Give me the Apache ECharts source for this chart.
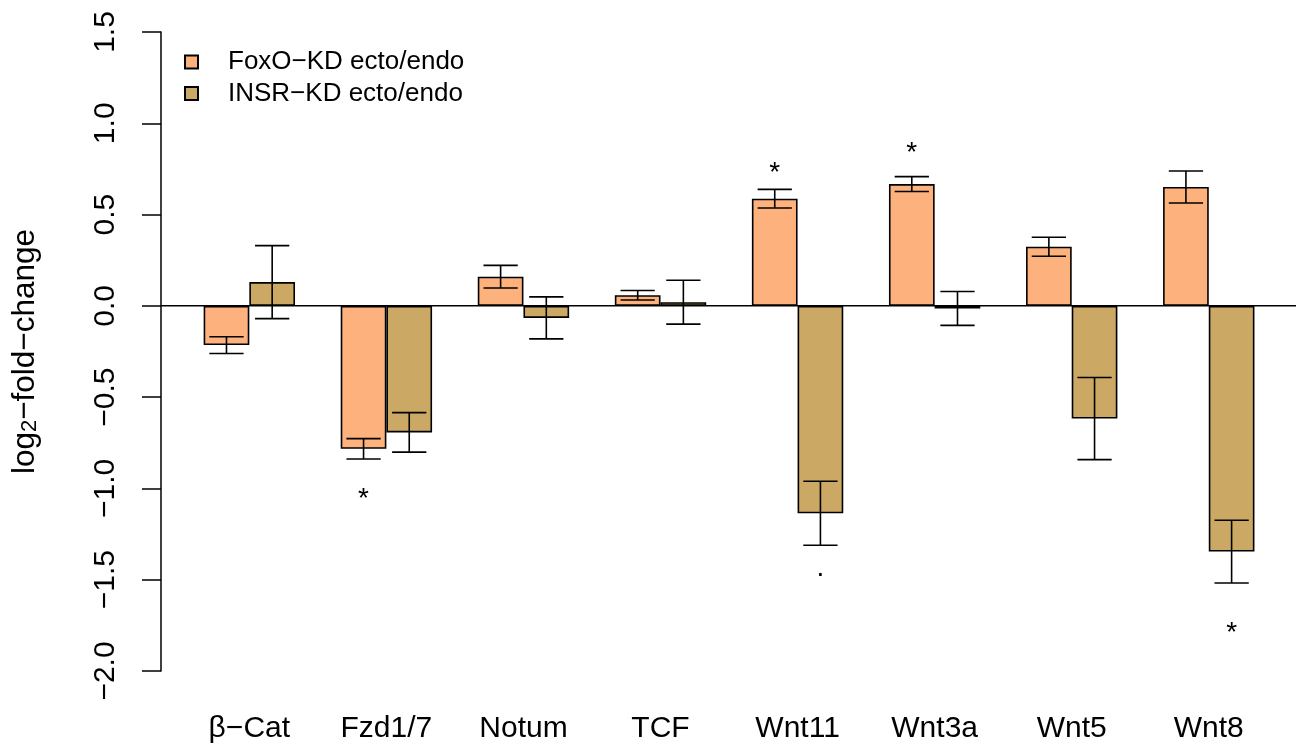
<!DOCTYPE html>
<html>
<head>
<meta charset="utf-8">
<script src="https://cdn.jsdelivr.net/npm/echarts@6/dist/echarts.min.js"></script>
<style>
  html, body { margin: 0; padding: 0; background: #fff; }
  #chart { width: 1300px; height: 744px; }
</style>
</head>
<body>
<div id="chart"></div>
<script>
// genes on the x axis
const categories = ['β−Cat', 'Fzd1/7', 'Notum', 'TCF', 'Wnt11', 'Wnt3a', 'Wnt5', 'Wnt8'];
// FoxO-KD ecto/endo: mean log2 fold change and standard error
const foxoMean = [-0.215, -0.783, 0.16, 0.058, 0.587, 0.667, 0.324, 0.651];
const foxoErr = [0.046, 0.056, 0.062, 0.026, 0.051, 0.041, 0.052, 0.088];
// INSR-KD ecto/endo
const insrMean = [0.13, -0.693, -0.066, 0.02, -1.136, -0.014, -0.617, -1.346];
const insrErr = [0.2, 0.108, 0.115, 0.12, 0.175, 0.093, 0.225, 0.172];
// significance marks and where they sit
const foxoSig = ['', '*', '', '', '*', '*', '', ''];
const foxoSigY = [null, -1.024, null, null, 0.76, 0.867, null, null];
const insrSig = ['', '', '', '', '.', '', '', '*'];
const insrSigY = [null, null, null, null, -1.477, null, null, -1.76];

const FONT = 'Liberation Sans, Arial, Helvetica, sans-serif';
const AXIS_FS = 30;
const fmt = v => (v < 0 ? '−' : '') + Math.abs(v).toFixed(1);

function errBars(means, errs, sigs, sigYs, side) {
    return {
        type: 'custom',
        xAxisIndex: 0,
        yAxisIndex: 0,
        silent: true,
        z: 5,
        data: means.map((m, i) => [i, m, m - errs[i], m + errs[i]]),
        renderItem(params, api) {
            const i = params.dataIndex;
            const bw = api.size([1, 0])[0];
            const c = api.coord([api.value(0), api.value(2)]);
            const x = c[0] + side * bw / 6;
            const yLo = c[1];
            const yHi = api.coord([api.value(0), api.value(3)])[1];
            const cap = bw / 3 * 0.375;
            const st = { stroke: '#000', lineWidth: 1.6 };
            const kids = [
                { type: 'line', shape: { x1: x, y1: yLo, x2: x, y2: yHi }, style: st },
                { type: 'line', shape: { x1: x - cap, y1: yLo, x2: x + cap, y2: yLo }, style: st },
                { type: 'line', shape: { x1: x - cap, y1: yHi, x2: x + cap, y2: yHi }, style: st }
            ];
            if (sigs[i]) {
                const ys = api.coord([i, sigYs[i]])[1];
                kids.push({
                    type: 'text',
                    style: {
                        x: x, y: ys + (sigs[i] === '*' ? 6 : -7),
                        text: sigs[i], fill: '#000',
                        font: '28px ' + FONT,
                        align: 'center', verticalAlign: 'middle'
                    }
                });
            }
            return { type: 'group', children: kids };
        }
    };
}

const chart = echarts.init(document.getElementById('chart'));
chart.setOption({
    animation: false,
    textStyle: { fontFamily: FONT },
    legend: {
        orient: 'vertical',
        left: 179,
        top: 44,
        itemWidth: 13,
        itemHeight: 13,
        itemGap: 5.6,
        icon: 'rect',
        textStyle: { fontSize: 26, color: '#000', fontFamily: FONT, padding: [0, 0, 0, 25] },
        data: ['FoxO−KD ecto/endo', 'INSR−KD ecto/endo']
    },
    grid: [
        { left: 180.8, right: 22.7, top: 32, bottom: 73 },
        { left: 161, right: 4, top: 32, bottom: 73 }
    ],
    xAxis: [
        {
            type: 'category',
            gridIndex: 0,
            data: categories,
            axisLine: { show: false },
            axisTick: { show: false },
            axisLabel: { color: '#000', fontSize: AXIS_FS, margin: 43, fontFamily: FONT }
        },
        { type: 'value', gridIndex: 1, min: 0, max: 1, show: false }
    ],
    yAxis: [
        { type: 'value', gridIndex: 0, min: -2, max: 1.5, interval: 0.5, show: false },
        {
            type: 'value',
            gridIndex: 1,
            min: -2,
            max: 1.5,
            interval: 0.5,
            axisLine: { show: true, lineStyle: { color: '#000', width: 1.5 } },
            axisTick: { show: true, length: 19, lineStyle: { color: '#000', width: 1.5 } },
            splitLine: { show: false },
            axisLabel: {
                rotate: 90, color: '#000', fontSize: AXIS_FS, margin: 40, fontFamily: FONT,
                formatter: v => fmt(v)
            },
            name: '{a|log}{b|2}{a|−fold−change}',
            nameLocation: 'middle',
            nameGap: 120,
            nameRotate: 90,
            nameTextStyle: {
                color: '#000',
                fontFamily: FONT,
                rich: {
                    a: { fontSize: 31.5, color: '#000', fontFamily: FONT },
                    b: { fontSize: 22, color: '#000', fontFamily: FONT, verticalAlign: 'bottom', lineHeight: 14 }
                }
            }
        }
    ],
    series: [
        {
            name: 'FoxO−KD ecto/endo',
            type: 'bar',
            xAxisIndex: 0,
            yAxisIndex: 0,
            barWidth: '33.333%',
            barGap: '0%',
            data: foxoMean,
            itemStyle: { color: '#FDB17D', borderColor: '#000', borderWidth: 1.6 }
        },
        {
            name: 'INSR−KD ecto/endo',
            type: 'bar',
            xAxisIndex: 0,
            yAxisIndex: 0,
            barWidth: '33.333%',
            barGap: '0%',
            data: insrMean,
            itemStyle: { color: '#CCA865', borderColor: '#000', borderWidth: 1.6 }
        },
        errBars(foxoMean, foxoErr, foxoSig, foxoSigY, -1),
        errBars(insrMean, insrErr, insrSig, insrSigY, 1),
        {
            // horizontal reference line at zero across the whole plot region
            type: 'line',
            xAxisIndex: 1,
            yAxisIndex: 1,
            silent: true,
            symbol: 'none',
            z: 4,
            data: [[0, 0], [1, 0]],
            lineStyle: { color: '#000', width: 1.5 }
        }
    ]
});
</script>
</body>
</html>
